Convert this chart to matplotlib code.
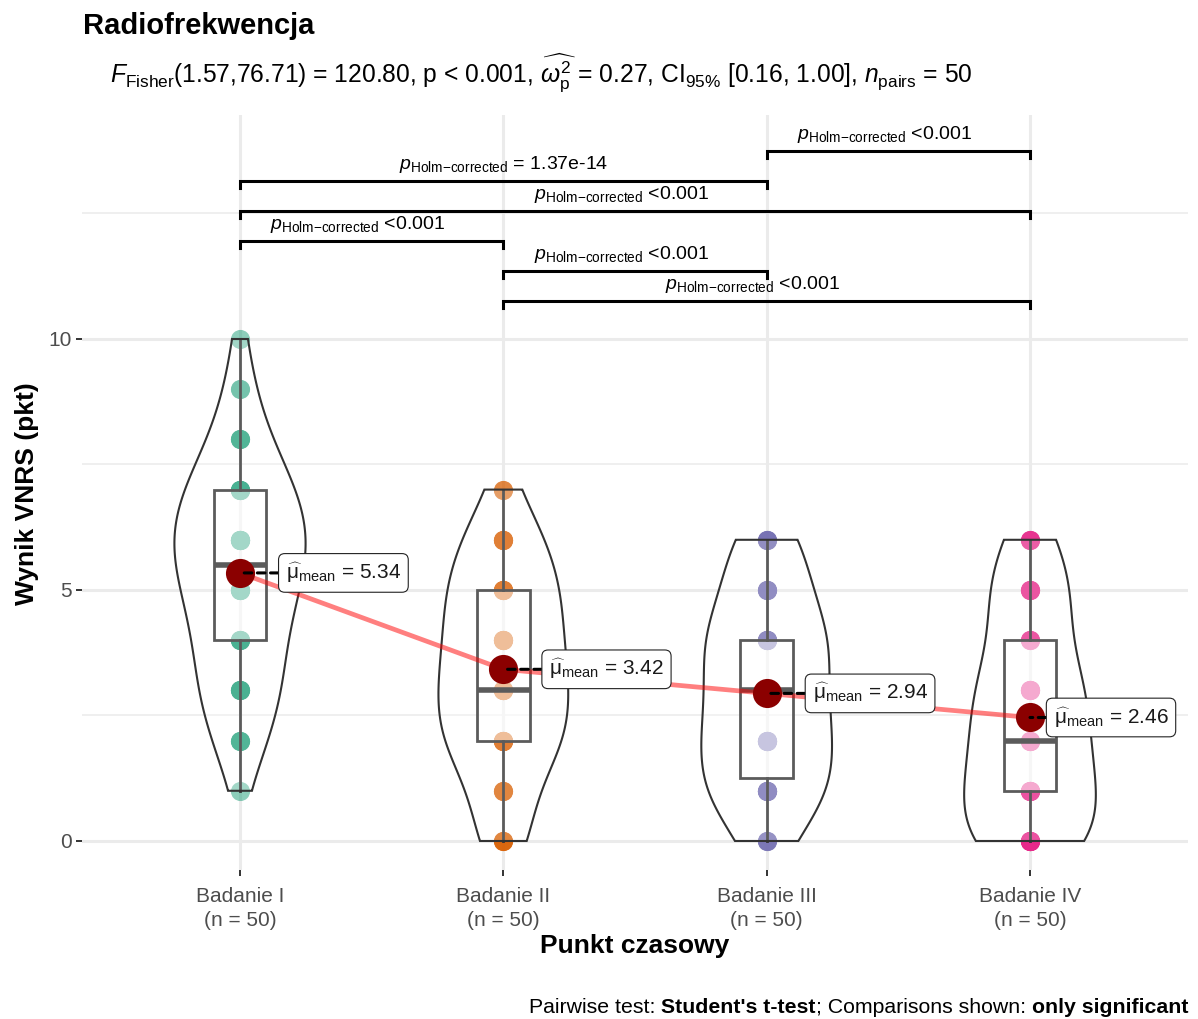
import numpy as np
import matplotlib
matplotlib.use('Agg')
import matplotlib.pyplot as plt
from matplotlib.patches import Rectangle, Polygon

plt.rcParams['font.family'] = ['Liberation Sans', 'DejaVu Sans']
plt.rcParams['mathtext.fontset'] = 'custom'
plt.rcParams['mathtext.rm'] = 'Liberation Sans'
plt.rcParams['mathtext.it'] = 'Liberation Sans:italic'
plt.rcParams['mathtext.bf'] = 'Liberation Sans:bold'
plt.rcParams['mathtext.sf'] = 'Liberation Sans'

# ---------------- data ----------------
group_labels = ['Badanie I', 'Badanie II', 'Badanie III', 'Badanie IV']
score_values = np.arange(0, 11)
counts_badanie_I = [0, 1, 4, 6, 6, 8, 10, 8, 4, 2, 1]
counts_badanie_II = [4, 4, 9, 9, 8, 8, 6, 2, 0, 0, 0]
counts_badanie_III = [4, 9, 9, 8, 9, 6, 5, 0, 0, 0, 0]
counts_badanie_IV = [10, 9, 8, 8, 5, 6, 4, 0, 0, 0, 0]
group_colors = ['#1B9E77', '#D95F02', '#7570B3', '#E7298A']

# significant pairwise comparisons (bottom to top)
pair_first = [2, 2, 1, 1, 1, 3]
pair_second = [4, 3, 2, 4, 3, 4]
pair_p_text = ['<0.001', '<0.001', '<0.001', '<0.001', '= 1.37e-14', '<0.001']

y_major_ticks = [0, 5, 10]
y_minor_grid = [2.5, 7.5, 12.5]

subtitle = (r'$\mathit{F}_{\mathrm{Fisher}}$(1.57,76.71) = 120.80, p < 0.001, '
            r'$\widehat{\omega_{\mathrm{p}}^{2}}$ = 0.27, CI$_{95\%}$ [0.16, 1.00], '
            r'$\mathit{n}_{\mathrm{pairs}}$ = 50')
mean_symbol = '$\\widehat{\\mathrm{\u03bc}}_{\\mathrm{mean}}$'

# ---------------- helpers ----------------
W, H = 1198, 1019
def fx(px):
    return px / W
def fy(py):
    return 1 - py / H

def nrd0(x):
    hi = np.std(x, ddof=1)
    q75, q25 = np.percentile(x, [75, 25])
    lo = min(hi, (q75 - q25) / 1.34)
    if lo == 0:
        lo = hi
    return 0.9 * lo * len(x) ** (-0.2)

def kde(x, grid):
    bw = nrd0(x)
    z = (grid[:, None] - x[None, :]) / bw
    return np.exp(-0.5 * z ** 2).sum(axis=1) / (len(x) * bw * np.sqrt(2 * np.pi))

all_counts = [counts_badanie_I, counts_badanie_II, counts_badanie_III, counts_badanie_IV]
groups = [np.repeat(score_values, c).astype(float) for c in all_counts]

fig = plt.figure(figsize=(W / 100, H / 100), dpi=100)
ax = fig.add_axes([fx(82), fy(870), fx(1188) - fx(82), fy(115) - fy(870)])
ax.set_xlim(0.4, 4.6)
ax.set_ylim(-0.578, 14.462)
for s in ax.spines.values():
    s.set_visible(False)

# grid
for y in y_major_ticks:
    ax.axhline(y, color='#EBEBEB', lw=2.2, zorder=0)
for y in y_minor_grid:
    ax.axhline(y, color='#EBEBEB', lw=1.1, zorder=0)
for i in range(len(group_labels)):
    ax.axvline(i + 1, color='#EBEBEB', lw=2.2, zorder=0)

# densities
grids, dens = [], []
for v in groups:
    g = np.linspace(v.min(), v.max(), 512)
    grids.append(g)
    dens.append(kde(v, g))
dmax = max(d.max() for d in dens)

means = []
for i, v in enumerate(groups):
    x0 = i + 1
    # points
    ax.scatter(np.full(len(v), x0), v, s=190, color=group_colors[i], alpha=0.5,
               linewidths=0, zorder=2)
    # box
    q1, med, q3 = np.percentile(v, [25, 50, 75])
    iqr = q3 - q1
    lo = v[v >= q1 - 1.5 * iqr].min()
    hi = v[v <= q3 + 1.5 * iqr].max()
    ax.add_patch(Rectangle((x0 - 0.1, q1), 0.2, q3 - q1, facecolor=(1, 1, 1, 0.5),
                           edgecolor='#333333', lw=2.0, zorder=3))
    ax.plot([x0 - 0.1, x0 + 0.1], [med, med], color='#333333', lw=4.0,
            solid_capstyle='butt', zorder=3)
    ax.plot([x0, x0], [lo, q1], color='#333333', lw=2.0, zorder=3)
    ax.plot([x0, x0], [q3, hi], color='#333333', lw=2.0, zorder=3)
    # violin
    hw = dens[i] / dmax * 0.25
    g = grids[i]
    verts = np.concatenate([np.column_stack([x0 - hw, g]),
                            np.column_stack([x0 + hw[::-1], g[::-1]])])
    ax.add_patch(Polygon(verts, closed=True, facecolor=(1, 1, 1, 0.2),
                         edgecolor='#333333', lw=1.5, zorder=4))
    means.append(v.mean())

xs = np.arange(1, len(groups) + 1)
ax.plot(xs, means, color='red', alpha=0.5, lw=3.4, zorder=5, solid_capstyle='round')
ax.scatter(xs, means, s=440, color='#8B0000', linewidths=0, zorder=6)

label_offsets = [33, 33, 33, 17]
for i, m in enumerate(means):
    ax.annotate(mean_symbol + ' = ' + f'{m:.2f}',
                xy=(xs[i], m), xytext=(label_offsets[i], 0), textcoords='offset points',
                ha='left', va='center', fontsize=15, color='#1a1a1a', zorder=7,
                bbox=dict(boxstyle='round,pad=0.35,rounding_size=0.3', fc='white',
                          ec='#222222', lw=0.8),
                arrowprops=dict(arrowstyle='-', linestyle=(0, (2.5, 1.8)), color='black',
                                lw=2.2, shrinkA=0, shrinkB=0))

# significance brackets
base, step, tip = 10.76, 0.598, 0.14
for k in range(len(pair_first)):
    a, b = pair_first[k], pair_second[k]
    yb = base + step * k
    ax.plot([a, a, b, b], [yb - tip, yb, yb, yb - tip], color='black', lw=2.2,
            solid_joinstyle='miter', zorder=8)
    txt = pair_p_text[k]
    dx = -10 if txt.startswith('<') else 0
    ax.annotate(r'$\mathit{p}_{\mathrm{Holm{-}corrected}}$ ' + txt,
                xy=((a + b) / 2, yb), xytext=(dx, 4), textcoords='offset points',
                ha='center', va='bottom', fontsize=14, zorder=8)

# axes ticks
ax.set_xticks(xs)
ax.set_xticklabels([f'{lab}\n(n = {len(v)})' for lab, v in zip(group_labels, groups)],
                   linespacing=1.35)
ax.set_yticks(y_major_ticks)
ax.set_yticklabels([str(t) for t in y_major_ticks])
ax.tick_params(axis='both', length=4.5, width=1.4, color='#333333',
               labelcolor='#4D4D4D', labelsize=15)
ax.tick_params(axis='x', pad=7.5)
ax.tick_params(axis='y', pad=3)

# titles
fig.text(fx(83), fy(34), 'Radiofrekwencja', fontsize=21, fontweight='bold',
         ha='left', va='baseline')
fig.text(fx(110), fy(83), subtitle, fontsize=17.7, ha='left', va='baseline')
fig.text(fx(27), fy(494), 'Wynik VNRS (pkt)', rotation=90, fontsize=19,
         fontweight='bold', ha='center', va='center')
fig.text(fx(635), fy(946), 'Punkt czasowy', fontsize=19, fontweight='bold',
         ha='center', va='center')

# caption with mixed weights, right aligned
renderer = fig.canvas.get_renderer()
cap_fs = 15.3
pieces = [('Pairwise test:', 'normal', True), ("Student's t-test", 'bold', False),
          ('; Comparisons shown:', 'normal', True), ('only significant', 'bold', False)]
sp = fig.text(0, 0, 'x x', fontsize=cap_fs)
sp2 = fig.text(0, 0, 'xx', fontsize=cap_fs)
space_w = sp.get_window_extent(renderer).width - sp2.get_window_extent(renderer).width
sp.remove(); sp2.remove()
objs, widths = [], []
for t, wgt, gap in pieces:
    o = fig.text(0, fy(1013), t, fontsize=cap_fs, fontweight=wgt, ha='left', va='baseline')
    objs.append(o)
    widths.append(o.get_window_extent(renderer).width)
total = sum(widths) + sum(space_w for _, _, g in pieces if g)
xpos = 1188 - total
for o, wd, (_, _, gap) in zip(objs, widths, pieces):
    o.set_x(fx(xpos))
    xpos += wd + (space_w if gap else 0)

fig.savefig('out.png', dpi=100, facecolor='white')
